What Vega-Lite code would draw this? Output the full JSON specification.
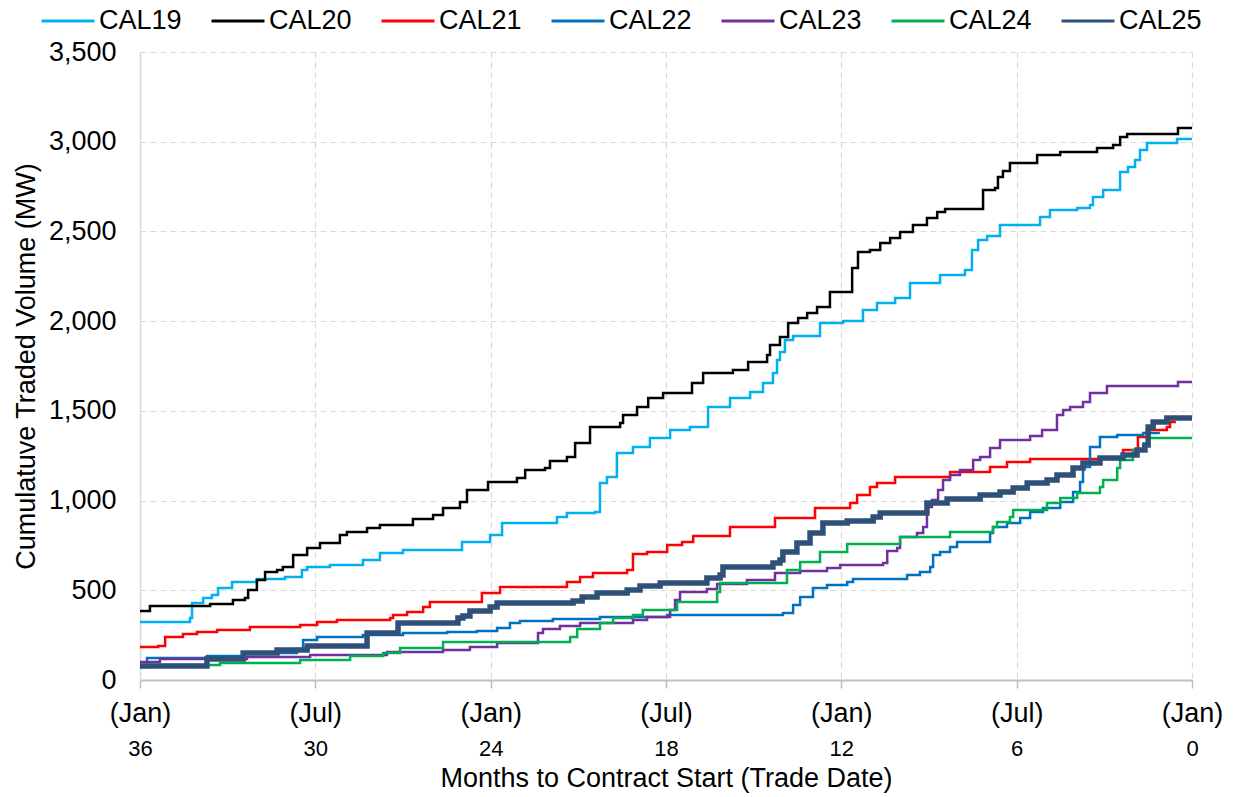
{
"$schema": "https://vega.github.io/schema/vega-lite/v6.json",
"width": 1052,
"height": 628,
"autosize": {"type": "none"},
"padding": {"left": 140, "top": 52, "right": 44, "bottom": 117},
"background": "white",
"config": {"font": "Liberation Sans", "view": {"stroke": null}},
"data": {"values": [
{"series":"CAL19","months":36,"volume":323},{"series":"CAL19","months":34.29,"volume":346},{"series":"CAL19","months":34.22,"volume":429},{"series":"CAL19","months":33.84,"volume":457},{"series":"CAL19","months":33.54,"volume":474},{"series":"CAL19","months":33.33,"volume":513},{"series":"CAL19","months":32.85,"volume":546},{"series":"CAL19","months":32.0,"volume":563},{"series":"CAL19","months":31.04,"volume":574},{"series":"CAL19","months":30.46,"volume":613},{"series":"CAL19","months":30.28,"volume":630},{"series":"CAL19","months":29.5,"volume":641},{"series":"CAL19","months":28.37,"volume":669},{"series":"CAL19","months":27.79,"volume":708},{"series":"CAL19","months":27.0,"volume":725},{"series":"CAL19","months":24.98,"volume":769},{"series":"CAL19","months":24.02,"volume":808},{"series":"CAL19","months":23.61,"volume":875},{"series":"CAL19","months":21.73,"volume":908},{"series":"CAL19","months":21.39,"volume":931},{"series":"CAL19","months":20.43,"volume":936},{"series":"CAL19","months":20.26,"volume":1098},{"series":"CAL19","months":20.02,"volume":1131},{"series":"CAL19","months":19.68,"volume":1265},{"series":"CAL19","months":19.13,"volume":1299},{"series":"CAL19","months":18.55,"volume":1349},{"series":"CAL19","months":17.86,"volume":1393},{"series":"CAL19","months":17.18,"volume":1410},{"series":"CAL19","months":16.56,"volume":1521},{"series":"CAL19","months":15.81,"volume":1572},{"series":"CAL19","months":15.12,"volume":1605},{"series":"CAL19","months":14.68,"volume":1655},{"series":"CAL19","months":14.34,"volume":1711},{"series":"CAL19","months":14.2,"volume":1783},{"series":"CAL19","months":14.1,"volume":1828},{"series":"CAL19","months":13.93,"volume":1895},{"series":"CAL19","months":13.65,"volume":1917},{"series":"CAL19","months":12.73,"volume":1990},{"series":"CAL19","months":11.94,"volume":2001},{"series":"CAL19","months":11.26,"volume":2062},{"series":"CAL19","months":10.78,"volume":2101},{"series":"CAL19","months":10.16,"volume":2129},{"series":"CAL19","months":9.65,"volume":2212},{"series":"CAL19","months":8.62,"volume":2257},{"series":"CAL19","months":7.77,"volume":2285},{"series":"CAL19","months":7.53,"volume":2396},{"series":"CAL19","months":7.32,"volume":2452},{"series":"CAL19","months":7.01,"volume":2474},{"series":"CAL19","months":6.57,"volume":2536},{"series":"CAL19","months":5.2,"volume":2580},{"series":"CAL19","months":4.86,"volume":2619},{"series":"CAL19","months":3.93,"volume":2630},{"series":"CAL19","months":3.49,"volume":2647},{"series":"CAL19","months":3.39,"volume":2692},{"series":"CAL19","months":3.04,"volume":2731},{"series":"CAL19","months":2.46,"volume":2831},{"series":"CAL19","months":2.19,"volume":2859},{"series":"CAL19","months":1.95,"volume":2898},{"series":"CAL19","months":1.78,"volume":2954},{"series":"CAL19","months":1.54,"volume":2993},{"series":"CAL19","months":0.51,"volume":3015},{"series":"CAL19","months":0,"volume":3015},
{"series":"CAL20","months":36,"volume":385},{"series":"CAL20","months":35.66,"volume":412},{"series":"CAL20","months":33.6,"volume":424},{"series":"CAL20","months":32.82,"volume":446},{"series":"CAL20","months":32.41,"volume":457},{"series":"CAL20","months":32.3,"volume":502},{"series":"CAL20","months":32.0,"volume":557},{"series":"CAL20","months":31.72,"volume":602},{"series":"CAL20","months":31.31,"volume":613},{"series":"CAL20","months":31.11,"volume":630},{"series":"CAL20","months":30.76,"volume":697},{"series":"CAL20","months":30.28,"volume":736},{"series":"CAL20","months":29.84,"volume":764},{"series":"CAL20","months":29.16,"volume":808},{"series":"CAL20","months":28.92,"volume":825},{"series":"CAL20","months":28.23,"volume":847},{"series":"CAL20","months":27.79,"volume":864},{"series":"CAL20","months":26.66,"volume":897},{"series":"CAL20","months":25.97,"volume":920},{"series":"CAL20","months":25.63,"volume":959},{"series":"CAL20","months":25.05,"volume":992},{"series":"CAL20","months":24.81,"volume":1059},{"series":"CAL20","months":24.09,"volume":1103},{"series":"CAL20","months":23.1,"volume":1126},{"series":"CAL20","months":22.82,"volume":1170},{"series":"CAL20","months":22.14,"volume":1181},{"series":"CAL20","months":21.97,"volume":1220},{"series":"CAL20","months":21.39,"volume":1243},{"series":"CAL20","months":21.11,"volume":1321},{"series":"CAL20","months":20.6,"volume":1410},{"series":"CAL20","months":19.57,"volume":1432},{"series":"CAL20","months":19.47,"volume":1477},{"series":"CAL20","months":18.99,"volume":1521},{"series":"CAL20","months":18.61,"volume":1572},{"series":"CAL20","months":18.1,"volume":1600},{"series":"CAL20","months":17.11,"volume":1655},{"series":"CAL20","months":16.73,"volume":1711},{"series":"CAL20","months":15.71,"volume":1728},{"series":"CAL20","months":15.19,"volume":1772},{"series":"CAL20","months":14.54,"volume":1811},{"series":"CAL20","months":14.44,"volume":1867},{"series":"CAL20","months":14.1,"volume":1911},{"series":"CAL20","months":13.82,"volume":1990},{"series":"CAL20","months":13.48,"volume":2017},{"series":"CAL20","months":13.17,"volume":2045},{"series":"CAL20","months":12.83,"volume":2079},{"series":"CAL20","months":12.39,"volume":2162},{"series":"CAL20","months":11.63,"volume":2296},{"series":"CAL20","months":11.43,"volume":2385},{"series":"CAL20","months":11.02,"volume":2396},{"series":"CAL20","months":10.67,"volume":2435},{"series":"CAL20","months":10.33,"volume":2463},{"series":"CAL20","months":9.99,"volume":2497},{"series":"CAL20","months":9.55,"volume":2536},{"series":"CAL20","months":9.07,"volume":2575},{"series":"CAL20","months":8.72,"volume":2608},{"series":"CAL20","months":8.45,"volume":2625},{"series":"CAL20","months":7.15,"volume":2731},{"series":"CAL20","months":6.74,"volume":2742},{"series":"CAL20","months":6.64,"volume":2803},{"series":"CAL20","months":6.47,"volume":2837},{"series":"CAL20","months":6.23,"volume":2881},{"series":"CAL20","months":5.3,"volume":2926},{"series":"CAL20","months":4.51,"volume":2943},{"series":"CAL20","months":3.25,"volume":2965},{"series":"CAL20","months":2.7,"volume":2982},{"series":"CAL20","months":2.46,"volume":3026},{"series":"CAL20","months":2.22,"volume":3043},{"series":"CAL20","months":0.48,"volume":3076},{"series":"CAL20","months":0,"volume":3076},
{"series":"CAL21","months":36,"volume":184},{"series":"CAL21","months":35.38,"volume":189},{"series":"CAL21","months":35.14,"volume":240},{"series":"CAL21","months":34.53,"volume":256},{"series":"CAL21","months":34.05,"volume":268},{"series":"CAL21","months":33.36,"volume":279},{"series":"CAL21","months":32.24,"volume":295},{"series":"CAL21","months":30.52,"volume":307},{"series":"CAL21","months":29.94,"volume":323},{"series":"CAL21","months":29.26,"volume":334},{"series":"CAL21","months":27.44,"volume":346},{"series":"CAL21","months":27.34,"volume":362},{"series":"CAL21","months":26.86,"volume":379},{"series":"CAL21","months":26.31,"volume":407},{"series":"CAL21","months":26.08,"volume":435},{"series":"CAL21","months":24.3,"volume":485},{"series":"CAL21","months":23.68,"volume":518},{"series":"CAL21","months":21.39,"volume":546},{"series":"CAL21","months":20.94,"volume":574},{"series":"CAL21","months":20.5,"volume":596},{"series":"CAL21","months":19.33,"volume":613},{"series":"CAL21","months":19.13,"volume":702},{"series":"CAL21","months":18.65,"volume":713},{"series":"CAL21","months":17.96,"volume":752},{"series":"CAL21","months":17.45,"volume":769},{"series":"CAL21","months":17.07,"volume":802},{"series":"CAL21","months":15.81,"volume":853},{"series":"CAL21","months":14.27,"volume":903},{"series":"CAL21","months":12.9,"volume":959},{"series":"CAL21","months":11.7,"volume":986},{"series":"CAL21","months":11.46,"volume":1031},{"series":"CAL21","months":11.02,"volume":1076},{"series":"CAL21","months":10.78,"volume":1098},{"series":"CAL21","months":10.16,"volume":1131},{"series":"CAL21","months":8.28,"volume":1159},{"series":"CAL21","months":6.91,"volume":1187},{"series":"CAL21","months":6.33,"volume":1215},{"series":"CAL21","months":5.54,"volume":1232},{"series":"CAL21","months":2.46,"volume":1237},{"series":"CAL21","months":2.36,"volume":1282},{"series":"CAL21","months":1.85,"volume":1354},{"series":"CAL21","months":1.54,"volume":1393},{"series":"CAL21","months":0.86,"volume":1410},{"series":"CAL21","months":0.75,"volume":1438},{"series":"CAL21","months":0.55,"volume":1438},
{"series":"CAL22","months":36,"volume":72},{"series":"CAL22","months":35.76,"volume":123},{"series":"CAL22","months":33.71,"volume":134},{"series":"CAL22","months":32.47,"volume":150},{"series":"CAL22","months":30.63,"volume":173},{"series":"CAL22","months":30.42,"volume":223},{"series":"CAL22","months":29.94,"volume":240},{"series":"CAL22","months":28.37,"volume":251},{"series":"CAL22","months":27.0,"volume":262},{"series":"CAL22","months":25.49,"volume":268},{"series":"CAL22","months":24.47,"volume":273},{"series":"CAL22","months":23.78,"volume":290},{"series":"CAL22","months":23.34,"volume":318},{"series":"CAL22","months":23.0,"volume":329},{"series":"CAL22","months":21.87,"volume":340},{"series":"CAL22","months":20.26,"volume":351},{"series":"CAL22","months":17.96,"volume":362},{"series":"CAL22","months":14.0,"volume":373},{"series":"CAL22","months":13.65,"volume":418},{"series":"CAL22","months":13.41,"volume":463},{"series":"CAL22","months":12.97,"volume":513},{"series":"CAL22","months":12.49,"volume":529},{"series":"CAL22","months":11.8,"volume":546},{"series":"CAL22","months":11.6,"volume":563},{"series":"CAL22","months":9.75,"volume":585},{"series":"CAL22","months":9.31,"volume":602},{"series":"CAL22","months":8.96,"volume":630},{"series":"CAL22","months":8.86,"volume":697},{"series":"CAL22","months":8.62,"volume":713},{"series":"CAL22","months":8.28,"volume":741},{"series":"CAL22","months":8.04,"volume":769},{"series":"CAL22","months":6.91,"volume":819},{"series":"CAL22","months":6.81,"volume":853},{"series":"CAL22","months":6.33,"volume":875},{"series":"CAL22","months":5.88,"volume":903},{"series":"CAL22","months":5.54,"volume":936},{"series":"CAL22","months":5.1,"volume":959},{"series":"CAL22","months":4.51,"volume":992},{"series":"CAL22","months":4.07,"volume":1048},{"series":"CAL22","months":3.83,"volume":1103},{"series":"CAL22","months":3.73,"volume":1187},{"series":"CAL22","months":3.49,"volume":1299},{"series":"CAL22","months":3.15,"volume":1354},{"series":"CAL22","months":2.56,"volume":1365},{"series":"CAL22","months":1.67,"volume":1377},{"series":"CAL22","months":1.1,"volume":1377},
{"series":"CAL23","months":36,"volume":100},{"series":"CAL23","months":35.32,"volume":117},{"series":"CAL23","months":32.34,"volume":128},{"series":"CAL23","months":30.18,"volume":139},{"series":"CAL23","months":27.55,"volume":156},{"series":"CAL23","months":25.63,"volume":167},{"series":"CAL23","months":24.71,"volume":184},{"series":"CAL23","months":23.78,"volume":206},{"series":"CAL23","months":22.38,"volume":262},{"series":"CAL23","months":22.21,"volume":284},{"series":"CAL23","months":21.63,"volume":301},{"series":"CAL23","months":20.94,"volume":318},{"series":"CAL23","months":19.13,"volume":334},{"series":"CAL23","months":18.65,"volume":351},{"series":"CAL23","months":17.86,"volume":390},{"series":"CAL23","months":17.69,"volume":446},{"series":"CAL23","months":17.52,"volume":490},{"series":"CAL23","months":16.6,"volume":507},{"series":"CAL23","months":16.25,"volume":535},{"series":"CAL23","months":15.23,"volume":557},{"series":"CAL23","months":14.27,"volume":596},{"series":"CAL23","months":13.41,"volume":607},{"series":"CAL23","months":12.49,"volume":624},{"series":"CAL23","months":12.04,"volume":641},{"series":"CAL23","months":10.57,"volume":652},{"series":"CAL23","months":10.43,"volume":719},{"series":"CAL23","months":10.09,"volume":736},{"series":"CAL23","months":9.99,"volume":797},{"series":"CAL23","months":9.41,"volume":819},{"series":"CAL23","months":9.2,"volume":853},{"series":"CAL23","months":9.07,"volume":964},{"series":"CAL23","months":8.9,"volume":1003},{"series":"CAL23","months":8.69,"volume":1059},{"series":"CAL23","months":8.52,"volume":1115},{"series":"CAL23","months":8.28,"volume":1142},{"series":"CAL23","months":7.94,"volume":1170},{"series":"CAL23","months":7.49,"volume":1226},{"series":"CAL23","months":7.25,"volume":1243},{"series":"CAL23","months":6.91,"volume":1293},{"series":"CAL23","months":6.57,"volume":1338},{"series":"CAL23","months":5.54,"volume":1360},{"series":"CAL23","months":5.13,"volume":1393},{"series":"CAL23","months":4.62,"volume":1477},{"series":"CAL23","months":4.41,"volume":1505},{"series":"CAL23","months":4.17,"volume":1521},{"series":"CAL23","months":3.73,"volume":1549},{"series":"CAL23","months":3.49,"volume":1600},{"series":"CAL23","months":2.91,"volume":1638},{"series":"CAL23","months":0.48,"volume":1661},{"series":"CAL23","months":0,"volume":1661},
{"series":"CAL24","months":36,"volume":84},{"series":"CAL24","months":33.26,"volume":95},{"series":"CAL24","months":30.52,"volume":111},{"series":"CAL24","months":28.81,"volume":134},{"series":"CAL24","months":27.68,"volume":150},{"series":"CAL24","months":27.1,"volume":178},{"series":"CAL24","months":25.63,"volume":212},{"series":"CAL24","months":21.28,"volume":240},{"series":"CAL24","months":21.04,"volume":284},{"series":"CAL24","months":20.26,"volume":318},{"series":"CAL24","months":19.81,"volume":346},{"series":"CAL24","months":19.13,"volume":362},{"series":"CAL24","months":18.79,"volume":390},{"series":"CAL24","months":17.62,"volume":435},{"series":"CAL24","months":16.25,"volume":490},{"series":"CAL24","months":16.15,"volume":541},{"series":"CAL24","months":13.86,"volume":613},{"series":"CAL24","months":13.41,"volume":658},{"series":"CAL24","months":12.73,"volume":713},{"series":"CAL24","months":11.8,"volume":758},{"series":"CAL24","months":9.99,"volume":797},{"series":"CAL24","months":8.28,"volume":825},{"series":"CAL24","months":6.81,"volume":853},{"series":"CAL24","months":6.67,"volume":881},{"series":"CAL24","months":6.23,"volume":908},{"series":"CAL24","months":6.12,"volume":947},{"series":"CAL24","months":4.96,"volume":986},{"series":"CAL24","months":4.51,"volume":1014},{"series":"CAL24","months":3.93,"volume":1042},{"series":"CAL24","months":3.15,"volume":1076},{"series":"CAL24","months":3.04,"volume":1115},{"series":"CAL24","months":2.56,"volume":1181},{"series":"CAL24","months":2.46,"volume":1226},{"series":"CAL24","months":2.02,"volume":1282},{"series":"CAL24","months":1.67,"volume":1310},{"series":"CAL24","months":1.5,"volume":1349},{"series":"CAL24","months":0,"volume":1349},
{"series":"CAL25","months":36,"volume":78},{"series":"CAL25","months":33.71,"volume":117},{"series":"CAL25","months":32.47,"volume":150},{"series":"CAL25","months":31.31,"volume":167},{"series":"CAL25","months":30.28,"volume":189},{"series":"CAL25","months":28.23,"volume":262},{"series":"CAL25","months":27.17,"volume":318},{"series":"CAL25","months":25.12,"volume":346},{"series":"CAL25","months":24.95,"volume":357},{"series":"CAL25","months":24.71,"volume":385},{"series":"CAL25","months":24.02,"volume":407},{"series":"CAL25","months":23.78,"volume":429},{"series":"CAL25","months":21.18,"volume":440},{"series":"CAL25","months":20.87,"volume":463},{"series":"CAL25","months":20.36,"volume":485},{"series":"CAL25","months":19.33,"volume":502},{"series":"CAL25","months":18.89,"volume":524},{"series":"CAL25","months":18.2,"volume":541},{"series":"CAL25","months":16.6,"volume":568},{"series":"CAL25","months":16.15,"volume":585},{"series":"CAL25","months":16.05,"volume":630},{"series":"CAL25","months":14.34,"volume":652},{"series":"CAL25","months":14.1,"volume":669},{"series":"CAL25","months":14.0,"volume":713},{"series":"CAL25","months":13.52,"volume":764},{"series":"CAL25","months":13.07,"volume":819},{"series":"CAL25","months":12.63,"volume":875},{"series":"CAL25","months":11.8,"volume":886},{"series":"CAL25","months":10.91,"volume":908},{"series":"CAL25","months":10.67,"volume":931},{"series":"CAL25","months":9.07,"volume":986},{"series":"CAL25","months":8.38,"volume":1009},{"series":"CAL25","months":7.25,"volume":1031},{"series":"CAL25","months":6.57,"volume":1048},{"series":"CAL25","months":6.12,"volume":1070},{"series":"CAL25","months":5.64,"volume":1098},{"series":"CAL25","months":4.96,"volume":1115},{"series":"CAL25","months":4.62,"volume":1142},{"series":"CAL25","months":4.07,"volume":1181},{"series":"CAL25","months":3.73,"volume":1209},{"series":"CAL25","months":3.15,"volume":1237},{"series":"CAL25","months":2.36,"volume":1254},{"series":"CAL25","months":1.88,"volume":1282},{"series":"CAL25","months":1.61,"volume":1310},{"series":"CAL25","months":1.5,"volume":1410},{"series":"CAL25","months":1.33,"volume":1438},{"series":"CAL25","months":0.86,"volume":1460},{"series":"CAL25","months":0,"volume":1460}
]},
"encoding": {
  "y": {"field": "volume", "type": "quantitative",
    "scale": {"domain": [0, 3500], "nice": false},
    "axis": {"values": [0,500,1000,1500,2000,2500,3000,3500], "format": ",.0f", "labelFontSize": 27, "labelColor": "#000000", "labelPadding": 24, "ticks": false,
      "domain": true, "domainColor": "#D9D9D9", "domainWidth": 1.5,
      "grid": true, "gridColor": "#D9D9D9", "gridDash": [6, 4], "gridWidth": 1.2,
      "title": "Cumulatuve Traded Volume (MW)", "titleFontSize": 27, "titleFontWeight": "normal", "titleColor": "#000000", "titlePadding": 8}},
  "color": {"field": "series", "type": "nominal",
    "scale": {"domain": ["CAL19","CAL20","CAL21","CAL22","CAL23","CAL24","CAL25"],
      "range": ["#00B0F0","#000000","#FF0000","#0070C0","#7030A0","#00B050","#2F5078"]},
    "legend": {"orient": "none", "legendX": -100, "legendY": -59, "direction": "horizontal", "columns": 7, "title": null,
      "symbolType": "stroke", "symbolSize": 2809, "symbolStrokeWidth": 3, "labelFontSize": 27, "labelColor": "#000000", "labelOffset": 3, "columnPadding": 23}},
  "order": {"field": "months", "type": "quantitative", "sort": "descending"}
},
"layer": [
  {"transform": [{"filter": "datum.series !== 'CAL25'"}],
   "mark": {"type": "line", "interpolate": "step-after", "strokeWidth": 2.5},
   "encoding": {"x": {"field": "months", "type": "quantitative",
     "scale": {"domain": [36, 0], "nice": false, "zero": false},
     "axis": {"orient": "bottom", "values": [36,30,24,18,12,6,0], "labelExpr": "datum.value % 12 === 0 ? '(Jan)' : '(Jul)'",
       "labelFontSize": 27, "labelColor": "#000000", "labelPadding": 12, "labelFlush": false,
       "ticks": true, "tickSize": 8, "tickColor": "#BFBFBF", "tickWidth": 1.5,
       "domain": true, "domainColor": "#BFBFBF", "domainWidth": 2,
       "grid": true, "gridColor": "#D9D9D9", "gridDash": [6, 4], "gridWidth": 1.2, "title": null}}}},
  {"transform": [{"filter": "datum.series === 'CAL25'"}],
   "mark": {"type": "line", "interpolate": "step-after", "strokeWidth": 5.5},
   "encoding": {"x": {"field": "months", "type": "quantitative",
     "scale": {"domain": [36, 0], "nice": false, "zero": false},
     "axis": {"orient": "bottom", "values": [36,30,24,18,12,6,0], "format": "d",
       "labelFontSize": 22, "labelColor": "#000000", "labelPadding": 58, "labelFlush": false,
       "ticks": false, "domain": false, "grid": false,
       "title": "Months to Contract Start (Trade Date)", "titleFontSize": 27, "titleFontWeight": "normal", "titleColor": "#000000", "titlePadding": 6}}}}
],
"resolve": {"axis": {"x": "independent"}}
}
